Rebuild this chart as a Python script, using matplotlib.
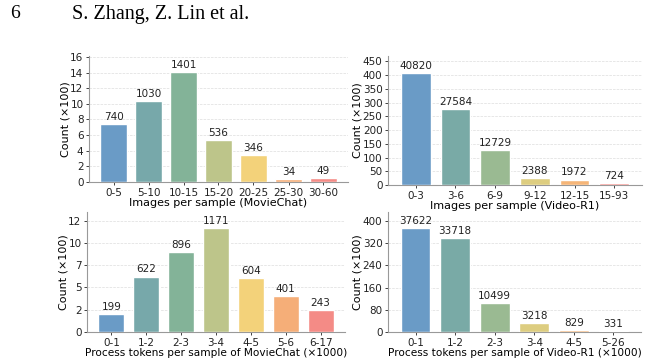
import matplotlib
matplotlib.use("Agg")
import matplotlib.pyplot as plt
import numpy as np
from matplotlib.colors import LinearSegmentedColormap

# data (counts), displayed in units of 100
mc_img_bins = ["0-5", "5-10", "10-15", "15-20", "20-25", "25-30", "30-60"]
mc_img_counts = [740, 1030, 1401, 536, 346, 34, 49]
mc_img_ticks = [0, 2, 4, 6, 8, 10, 12, 14, 16]

r1_img_bins = ["0-3", "3-6", "6-9", "9-12", "12-15", "15-93"]
r1_img_counts = [40820, 27584, 12729, 2388, 1972, 724]
r1_img_ticks = [0, 50, 100, 150, 200, 250, 300, 350, 400, 450]

mc_tok_bins = ["0-1", "1-2", "2-3", "3-4", "4-5", "5-6", "6-17"]
mc_tok_counts = [199, 622, 896, 1171, 604, 401, 243]
mc_tok_ticks = [0, 2.5, 5, 7.5, 10, 12.5]

r1_tok_bins = ["0-1", "1-2", "2-3", "3-4", "4-5", "5-26"]
r1_tok_counts = [37622, 33718, 10499, 3218, 829, 331]
r1_tok_ticks = [0, 80, 160, 240, 320, 400]

anchors = ["#6a9bc6", "#77a8aa", "#83b398", "#bcc58a", "#f3d27a", "#f5ae78", "#f48b86"]
cmap = LinearSegmentedColormap.from_list("pal", anchors)

fig = plt.figure(figsize=(6.49, 3.63), dpi=100)

fig.text(10 / 649, 1 - 14 / 363, "6", family="Liberation Serif", fontsize=14, va="center")
fig.text(72 / 649, 1 - 14 / 363, "S. Zhang, Z. Lin et al.", family="Liberation Serif",
         fontsize=14.5, va="center")


def draw(rect, bins, counts, ticks, xlabel, xlabel_size=8):
    ax = fig.add_axes(rect)
    vals = np.array(counts) / 100.0
    x = np.arange(len(bins))
    colors = [cmap(t) for t in np.linspace(0, 1, len(bins))]
    ax.bar(x, vals, width=0.75, color=colors, edgecolor="white", linewidth=1, zorder=3)
    top = vals.max() * 1.15
    for xi, v, c in zip(x, vals, counts):
        ax.annotate(str(c), (xi, v), xytext=(0, 1.5), textcoords="offset points",
                    ha="center", va="bottom", fontsize=7.5, color="#222222")
    ax.set_ylim(0, top)
    ax.set_xlim(-0.7, len(bins) - 0.3)
    ax.set_yticks(ticks)
    ax.set_yticklabels([str(int(t)) for t in ticks])
    ax.set_xticks(x)
    ax.set_xticklabels(bins)
    ax.tick_params(labelsize=7.5, length=2.5, width=0.6, pad=1.5, colors="#222222")
    ax.yaxis.grid(True, linestyle="--", color="#dddddd", linewidth=0.5, zorder=0)
    for s in ["top", "right"]:
        ax.spines[s].set_visible(False)
    for s in ["left", "bottom"]:
        ax.spines[s].set_color("#999999")
        ax.spines[s].set_linewidth(0.8)
    ax.set_ylabel("Count (×100)", fontsize=8, labelpad=0)
    ax.set_xlabel(xlabel, fontsize=xlabel_size, labelpad=0)
    return ax


draw([89 / 649, 1 - 182 / 363, 259 / 649, 126 / 363], mc_img_bins, mc_img_counts,
     mc_img_ticks, "Images per sample (MovieChat)")
draw([388 / 649, 1 - 185 / 363, 254 / 649, 129 / 363], r1_img_bins, r1_img_counts,
     r1_img_ticks, "Images per sample (Video-R1)")
draw([87 / 649, 1 - 332 / 363, 258 / 649, 120 / 363], mc_tok_bins, mc_tok_counts,
     mc_tok_ticks, "Process tokens per sample of MovieChat (×1000)", 7.6)
draw([388 / 649, 1 - 332 / 363, 253 / 649, 120 / 363], r1_tok_bins, r1_tok_counts,
     r1_tok_ticks, "Process tokens per sample of Video-R1 (×1000)", 7.6)

fig.savefig("out.png", dpi=100)
